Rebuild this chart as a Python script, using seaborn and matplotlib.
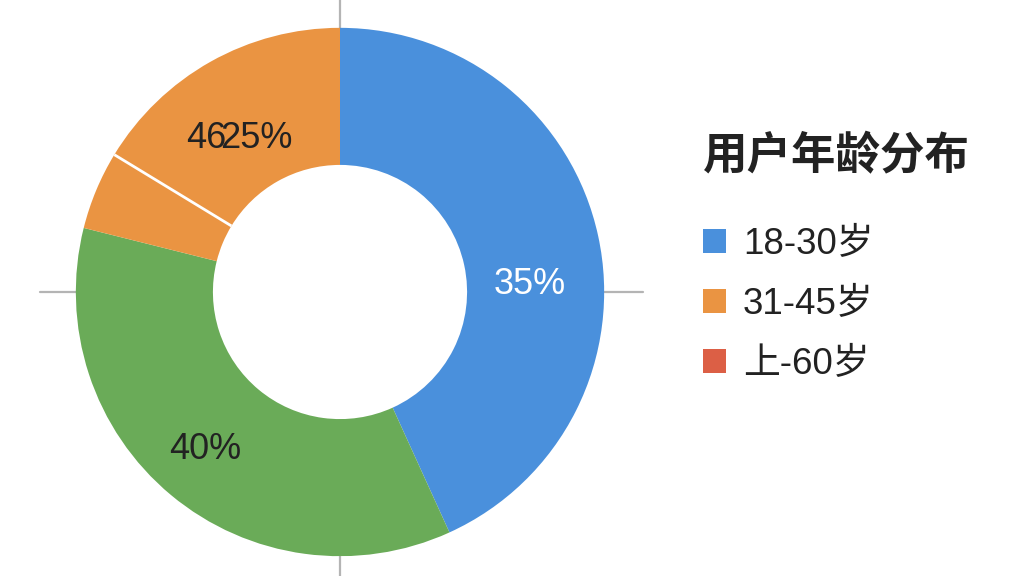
import numpy as np
import matplotlib
matplotlib.use("Agg")
import matplotlib.pyplot as plt
from matplotlib.patches import Patch
import seaborn as sns

# ---- data ----
wedge_values = [43.2, 35.7, 4.8, 16.3]          # angular share of each ring piece
wedge_colors = ["#4A90DC", "#6AAB58", "#EA9442", "#EA9442"]
label_texts = ["35%", "40%", "46", "25%"]
label_colors = ["white", "#222222", "#222222", "#222222"]
legend_title = "用户年龄分布"
legend_labels = ["18-30岁", "31-45岁", "上-60岁"]
legend_colors = ["#4A90DC", "#EA9442", "#DC5F45"]

sns.set_theme(style="white")
plt.rcParams["font.family"] = ["Liberation Sans", "Noto Sans CJK SC", "DejaVu Sans"]

fig = plt.figure(figsize=(10.24, 5.76), dpi=100)
fig.patch.set_facecolor("white")
ax = fig.add_axes([23 / 1024, -33 / 576, 634 / 1024, 634 / 576])

inner = 127 / 264
ax.pie(wedge_values, colors=wedge_colors, startangle=90, counterclock=False,
       radius=1.0, wedgeprops=dict(width=1 - inner, linewidth=0))

# white separator between the two orange pieces
cum = np.cumsum(wedge_values)
ang = np.deg2rad(90 - 360 * cum[2] / cum[-1])
ax.plot([inner * np.cos(ang), np.cos(ang)], [inner * np.sin(ang), np.sin(ang)],
        color="white", lw=2, solid_capstyle="butt", zorder=3)

# crosshair stubs outside the ring
gc = "#B4B4B4"
ax.plot([-1.136, -1.0], [0, 0], color=gc, lw=1.6, zorder=0)
ax.plot([1.0, 1.148], [0, 0], color=gc, lw=1.6, zorder=0)
ax.plot([0, 0], [1.0, 1.3], color=gc, lw=1.6, zorder=0)
ax.plot([0, 0], [-1.3, -1.0], color=gc, lw=1.6, zorder=0)

# percentage labels
label_pos = [(0.72, 0.03), (-0.511, -0.598), (-0.505, 0.58), (-0.316, 0.58)]
for (x, y), t, c in zip(label_pos, label_texts, label_colors):
    ax.text(x, y, t, color=c, fontsize=26, ha="center", va="center", zorder=5)

ax.set_xlim(-1.2, 1.2)
ax.set_ylim(-1.2, 1.2)
ax.set_aspect("equal")
ax.axis("off")

fig.text(703 / 1024, 1 - 157 / 576, legend_title, fontsize=32, fontweight="bold",
         color="#222222", ha="left", va="center")

handles = [Patch(facecolor=c, edgecolor="none") for c in legend_colors]
leg = fig.legend(handles, legend_labels,
                 loc="upper left", bbox_to_anchor=(703 / 1024, 1 - 227 / 576),
                 frameon=False, fontsize=26.5,
                 handlelength=0.63, handleheight=0.63, handletextpad=0.45,
                 labelspacing=0.68, borderpad=0, borderaxespad=0)
for t in leg.get_texts():
    t.set_color("#222222")

fig.savefig("out.png", dpi=100, facecolor="white")
